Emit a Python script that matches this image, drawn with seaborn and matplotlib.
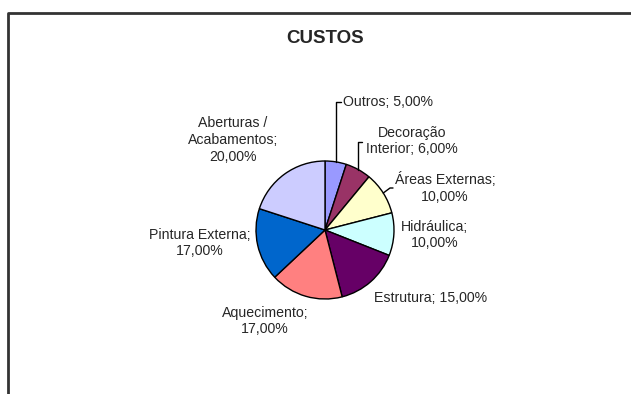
import numpy as np
import matplotlib
matplotlib.use("Agg")
import matplotlib.pyplot as plt
import seaborn as sns

title = "CUSTOS"
categories = ["Outros", "Decoração\nInterior", "Áreas Externas", "Hidráulica",
              "Estrutura", "Aquecimento", "Pintura Externa", "Aberturas /\nAcabamentos"]
values = [5.0, 6.0, 10.0, 10.0, 15.0, 17.0, 17.0, 20.0]
label_texts = ["Outros; 5,00%", "Decoração\nInterior; 6,00%", "Áreas Externas;\n10,00%",
               "Hidráulica;\n10,00%", "Estrutura; 15,00%", "Aquecimento;\n17,00%",
               "Pintura Externa;\n17,00%", "Aberturas /\nAcabamentos;\n20,00%"]
hex_colors = ["#9999FF", "#993366", "#FFFFCC", "#CCFFFF", "#660066", "#FF8080",
              "#0066CC", "#CCCCFF"]

sns.set_style("white")
plt.rcParams['font.family'] = ['Liberation Sans', 'DejaVu Sans']
colors = sns.color_palette(hex_colors)

W, H = 631, 394
fig = plt.figure(figsize=(W / 100, H / 100), dpi=100)
ax = fig.add_axes([0, 0, 1, 1])
ax.set_xlim(0, W)
ax.set_ylim(0, H)
ax.axis("off")

# frame
ax.plot([8, 8, W + 5], [-5, H - 13, H - 13], color="#333333", lw=2, solid_capstyle="butt")

cx, cy, r = 325, 164, 69
wedges, _ = ax.pie(values, colors=colors, startangle=90, counterclock=False,
                   center=(cx, cy), radius=r, frame=True,
                   wedgeprops=dict(edgecolor="black", linewidth=1))
ax.set_xlim(0, W)
ax.set_ylim(0, H)
ax.axis("off")

ax.text(325, 356, title, ha="center", va="center", fontsize=13.5, fontweight="bold")

# label positions (pixel text anchors)
pos = [(343, 292, "left"), (412, 253, "center"), (445, 206, "center"),
       (435, 159, "center"), (431, 96, "center"), (265, 73, "center"),
       (200, 151, "center"), (233, 254, "center")]
fs = 10.2
for t, (x, y, ha) in zip(label_texts, pos):
    ax.text(x, y, t, ha=ha, va="center", fontsize=fs, linespacing=1.25, multialignment="center")

# leader lines for first three slices
def edge_point(i):
    w = wedges[i]
    ang = np.deg2rad((w.theta1 + w.theta2) / 2)
    return cx + r * np.cos(ang), cy + r * np.sin(ang)

x0, y0 = edge_point(0)
ax.plot([x0, x0, 341], [y0, 292, 292], color="black", lw=1)
x1, y1 = edge_point(1)
ax.plot([x1, x1, 362], [y1, 252, 252], color="black", lw=1)
x2, y2 = edge_point(2)
ax.plot([x2, 390, 393], [y2, 206, 206], color="black", lw=1)

fig.savefig("out.png", dpi=100)
